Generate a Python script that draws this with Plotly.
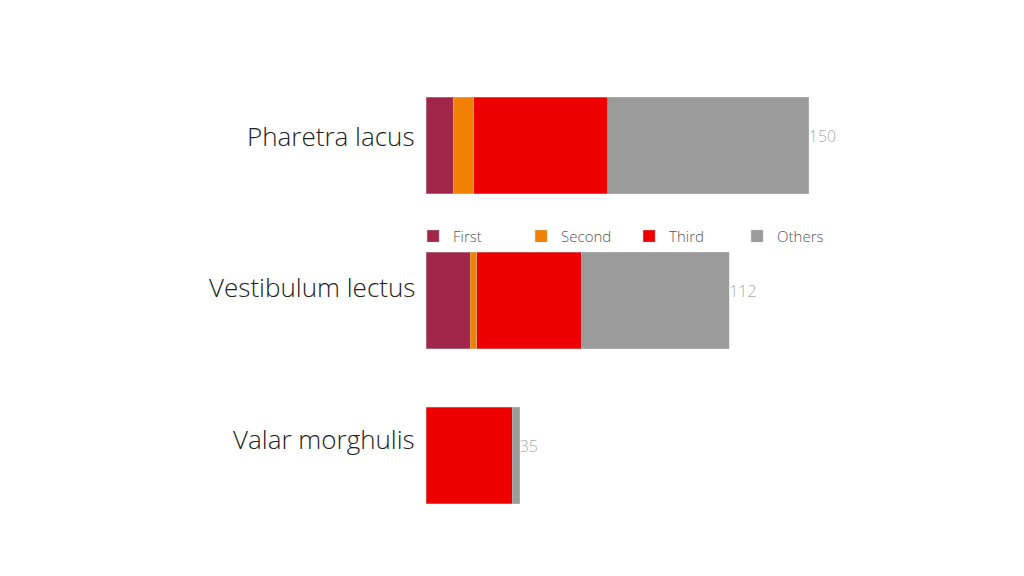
import plotly.graph_objects as go

categories = ["Pharetra lacus", "Vestibulum lectus", "Valar morghulis"]
series_names = ["First", "Second", "Third", "Others"]
first = [10.6, 17.4, 0]
second = [8.2, 2.4, 0]
third = [52.5, 41.0, 33.7]
others = [78.7, 58.0, 3.0]
total_labels = ["150", "112", "35"]
colors = ["#A0264A", "#F28005", "#EE0000", "#9B9B9B"]
label_lift = [10, 14, 17]

FONT = "Open Sans"

series = [first, second, third, others]
fig = go.Figure()
for name, vals, col in zip(series_names, series, colors):
    fig.add_trace(go.Bar(
        y=categories, x=vals, name=name, orientation="h",
        marker=dict(color=col, line=dict(width=0.6, color="rgba(200,200,200,0.6)")),
        hoverinfo="x+name",
    ))

totals = [sum(v) for v in zip(*series)]
fig.add_trace(go.Scatter(
    y=categories, x=totals, mode="text", text=total_labels,
    textposition="top right", showlegend=False,
    textfont=dict(size=16, color="#AAAAAA", family=FONT, weight=300),
    hoverinfo="skip",
))

for cat, lift in zip(categories, label_lift):
    fig.add_annotation(
        x=0, y=cat, xref="x", yref="y", text=cat, showarrow=False,
        xanchor="right", yanchor="middle", xshift=-9, yshift=lift,
        font=dict(size=26, color="#222", family=FONT, weight=300),
    )

fig.update_layout(
    width=1024, height=576,
    barmode="stack", bargap=0.38,
    paper_bgcolor="white", plot_bgcolor="white",
    margin=dict(l=418, r=19, t=60, b=51, autoexpand=False),
    font=dict(family=FONT, color="#222"),
    xaxis=dict(range=[0, 230], visible=False, fixedrange=True),
    yaxis=dict(autorange="reversed", showgrid=False, zeroline=False,
               showline=False, ticks="", showticklabels=False, automargin=False),
    legend=dict(orientation="h", x=-0.022, xanchor="left", y=0.638, yanchor="middle",
                entrywidth=63, entrywidthmode="pixels", itemwidth=30,
                font=dict(size=15, color="#555", family=FONT, weight=300),
                bgcolor="rgba(0,0,0,0)", traceorder="normal"),
    showlegend=True,
)

fig.write_html("out.html")
